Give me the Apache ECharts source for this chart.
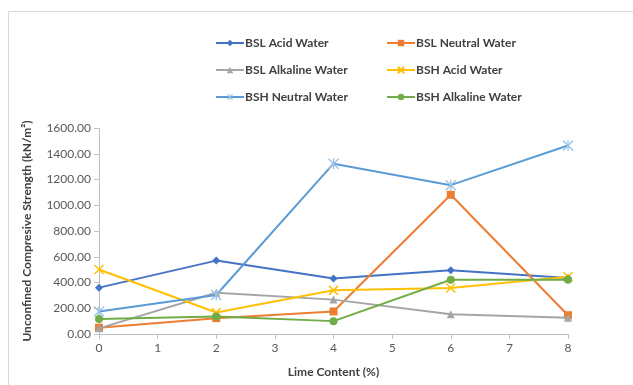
<!DOCTYPE html>
<html>
<head>
<meta charset="utf-8">
<script src="https://cdn.jsdelivr.net/npm/echarts@6/dist/echarts.min.js"></script>
<style>html,body{margin:0;padding:0;background:#fff}#c{width:633px;height:385px}</style>
</head>
<body>
<div id="c"></div>
<script>
var limeContent = [0, 2, 4, 6, 8];
var bslAcid = [360, 570, 431, 495, 435];
var bslNeutral = [49, 123, 175, 1081, 146];
var bslAlkaline = [44, 321, 267, 154, 126];
var bshAcid = [501, 167, 339, 357, 445];
var bshNeutral = [175, 303, 1323, 1156, 1464];
var bshAlkaline = [116, 136, 100, 421, 421];
var seriesNames = ['BSL Acid Water','BSL Neutral Water','BSL Alkaline Water','BSH Acid Water','BSH Neutral Water','BSH Alkaline Water'];

var FONT = 'Lato';
function pairs(v){ return limeContent.map(function(x,i){ return [x, v[i]]; }); }
var xPath = 'path://M0,0L10,10M10,0L0,10';
var starPath = 'path://M4.4,0L5.6,0L5.6,10L4.4,10ZM0,0.9L0.9,0L10,9.1L9.1,10ZM9.1,0L10,0.9L0.9,10L0,9.1Z';

var defs = [
  {data: bslAcid, color:'#4472C4', symbol:'diamond', size:8},
  {data: bslNeutral, color:'#ED7D31', symbol:'rect', size:8},
  {data: bslAlkaline, color:'#A5A5A5', symbol:'triangle', size:8},
  {data: bshAcid, color:'#FFC000', symbol:xPath, size:9, stroke:true},
  {data: bshNeutral, color:'#5B9BD5', symbol:starPath, size:11, markerColor:'#9DC3E6'},
  {data: bshAlkaline, color:'#70AD47', symbol:'circle', size:8}
];

var series = defs.map(function(d, i){
  var mc = d.markerColor || d.color;
  return {
    name: seriesNames[i],
    type: 'line',
    data: pairs(d.data),
    symbol: d.symbol,
    symbolSize: d.size,
    showAllSymbol: true,
    lineStyle: {color: d.color, width: 2},
    itemStyle: d.stroke ? {color: 'none', borderColor: mc, borderWidth: 1.5} : {color: mc, borderColor: mc, borderWidth: 0},
    emphasis: {disabled: true},
    z: 2 + i
  };
});

var legendPos = [[210,32],[381,32],[210,59],[381,59],[210,86],[381,86]];
var legends = seriesNames.map(function(n,i){
  return {
    data: [n], left: legendPos[i][0], top: legendPos[i][1],
    itemWidth: 28, itemHeight: 8, itemGap: 0,
    selectedMode: false,
    textStyle: {fontFamily: FONT, fontSize: 12, fontWeight: 'bold', color: '#404040', padding:[0,0,0,-4]}
  };
});

var chart = echarts.init(document.getElementById('c'), null, {renderer:'canvas'});
chart.setOption({
  animation: false,
  backgroundColor: '#fff',
  legend: legends,
  graphic: [{
    type: 'polyline', silent: true,
    shape: {points: [[8.5, 400],[8.5, 11.5],[640, 11.5]]},
    style: {stroke: '#D9D9D9', lineWidth: 1, fill: null}
  }],
  grid: {left: 99, right: 65, top: 128, bottom: 51, containLabel: false},
  xAxis: {
    type: 'value', min: 0, max: 8, interval: 1,
    name: 'Lime Content (%)', nameLocation: 'middle', nameGap: 32,
    nameTextStyle: {fontFamily: FONT, fontSize: 12, fontWeight: 'bold', color: '#404040'},
    axisLine: {show: true, lineStyle: {color: '#BFBFBF', width: 1}},
    axisTick: {show: true, length: 5, lineStyle: {color: '#BFBFBF'}},
    splitLine: {show: false},
    axisLabel: {fontFamily: FONT, fontSize: 12, color: '#595959', margin: 8}
  },
  yAxis: {
    type: 'value', min: 0, max: 1600, interval: 200,
    name: 'Unconfined Compresive Strength (kN/m²)', nameLocation: 'middle', nameGap: 66,
    nameTextStyle: {fontFamily: FONT, fontSize: 12, fontWeight: 'bold', color: '#404040'},
    axisLine: {show: true, lineStyle: {color: '#BFBFBF', width: 1}},
    axisTick: {show: true, length: 5, lineStyle: {color: '#BFBFBF'}},
    splitLine: {show: false},
    axisLabel: {fontFamily: FONT, fontSize: 12, color: '#595959', margin: 8,
      formatter: function(v){ return v.toFixed(2); }}
  },
  series: series
});
</script>
</body>
</html>
